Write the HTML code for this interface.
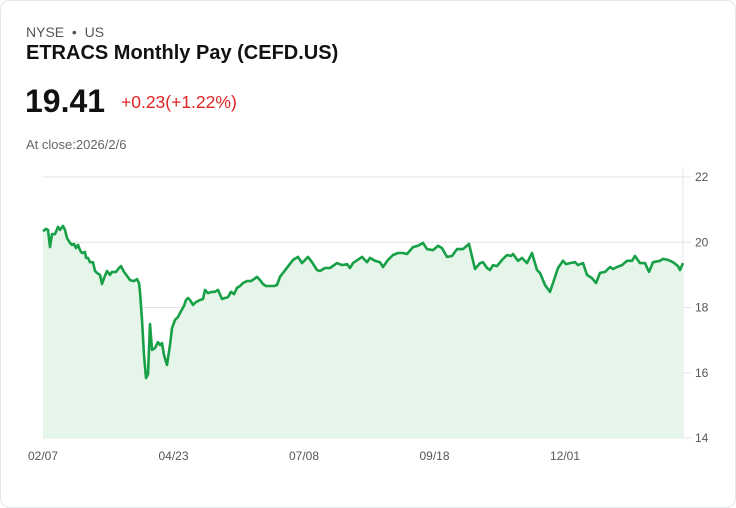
<!DOCTYPE html>
<html><head><meta charset="utf-8"><style>
body{margin:0;background:#fff;font-family:"Liberation Sans",Arial,sans-serif;}
.card{position:absolute;left:0;top:0;width:734px;height:506px;border:1px solid #e3e6ea;border-radius:10px;background:#fff;}
.t{position:absolute;white-space:nowrap;}
</style></head><body>
<div class="card">
<div class="t" style="left:25px;top:23px;font-size:14px;color:#555;">NYSE &nbsp;•&nbsp; US</div>
<div class="t" style="left:25px;top:41px;font-size:20px;font-weight:bold;color:#111;">ETRACS Monthly Pay (CEFD.US)</div>
<div class="t" style="left:24px;top:82px;font-size:32px;font-weight:bold;color:#111;">19.41</div>
<div class="t" style="left:120px;top:91px;font-size:17.5px;color:#e02424;">+0.23(+1.22%)</div>
<div class="t" style="left:25px;top:136px;font-size:13px;color:#666;">At close:2026/2/6</div>
<svg id="chart" width="736" height="508" style="position:absolute;left:-1px;top:-1px"></svg>
</div>
<script>
const dayIdx=[0,3,5,7,9,12,15,17,20,22,24,27,29,31,33,35,37,39,42,43,45,47,50,52,54,57,59,61,64,67,69,73,76,78,81,84,87,91,94,96,97,99,101,103,105,107,109,112,115,117,119,121,124,127,129,132,135,137,141,143,145,147,150,153,157,160,162,165,169,172,175,179,182,185,188,191,194,197,200,204,208,211,214,217,220,223,227,231,234,237,250,255,259,265,269,274,277,282,287,294,299,304,307,310,319,324,327,332,337,340,345,350,355,360,364,370,375,380,384,390,395,399,404,409,414,420,426,432,437,440,444,447,450,454,459,464,468,470,475,479,484,489,494,497,502,507,510,515,520,523,527,532,535,540,544,549,553,557,562,567,570,574,579,584,589,592,597,602,606,610,617,620,625,630,635,637,640];
const prices=[20.34,20.41,20.38,19.85,20.25,20.25,20.47,20.38,20.50,20.38,20.13,19.98,19.92,19.95,19.82,19.92,19.76,19.67,19.70,19.52,19.52,19.39,19.39,19.12,19.06,19.00,18.72,18.90,19.12,19.00,19.09,19.09,19.21,19.27,19.09,18.97,18.84,18.81,18.87,18.75,18.48,17.62,16.54,15.84,15.96,17.49,16.70,16.76,16.94,16.85,16.91,16.54,16.24,16.85,17.37,17.62,17.71,17.83,18.05,18.23,18.29,18.23,18.08,18.17,18.23,18.26,18.54,18.44,18.48,18.48,18.54,18.26,18.29,18.32,18.48,18.41,18.60,18.66,18.75,18.81,18.81,18.87,18.94,18.84,18.72,18.66,18.66,18.66,18.69,18.94,19.46,19.55,19.36,19.55,19.39,19.15,19.12,19.21,19.21,19.36,19.30,19.33,19.21,19.36,19.55,19.39,19.52,19.43,19.39,19.24,19.46,19.61,19.67,19.67,19.64,19.85,19.89,19.98,19.79,19.76,19.89,19.82,19.55,19.58,19.79,19.79,19.95,19.18,19.36,19.39,19.21,19.15,19.30,19.27,19.46,19.61,19.58,19.64,19.43,19.52,19.36,19.67,19.15,19.06,18.69,18.48,18.75,19.21,19.43,19.33,19.36,19.39,19.30,19.36,19.00,18.90,18.75,19.06,19.09,19.24,19.18,19.24,19.30,19.43,19.43,19.58,19.36,19.36,19.09,19.39,19.43,19.49,19.46,19.39,19.27,19.15,19.36];
const yTicks=[22,20,18,16,14];
const xLabels=["02/07","04/23","07/08","09/18","12/01"];
const xLabelIdx=[0,130.5,261,391.5,522];
const NS="http://www.w3.org/2000/svg";
const svg=document.getElementById('chart');
const L=43,R=683,T=177,B=438;
const n=Math.min(dayIdx.length,prices.length);
const pts=[];for(let i=0;i<n;i++)pts.push([dayIdx[i],prices[i]]);
pts.sort((a,b)=>a[0]-b[0]);
const xs=d=>L+d/640*(R-L);
const ys=v=>T+(22-v)/(22-14)*(B-T);
function mk(tag,at){const e=document.createElementNS(NS,tag);for(const k in at)e.setAttribute(k,at[k]);svg.appendChild(e);return e;}
yTicks.forEach(v=>{
 const g=mk('line',{x1:L,x2:R+8,y1:ys(v),y2:ys(v),stroke:'#e2e4e8','stroke-width':1});
 
 
 const t=mk('text',{x:R+12,y:ys(v)+4,'font-size':12,fill:'#555','font-family':'Liberation Sans, sans-serif'});
 t.textContent=v;
 
 
});
const ax=mk('line',{x1:R,x2:R,y1:T-10,y2:B,stroke:'#e2e4e8','stroke-width':1});


xLabels.forEach((s,i)=>{
 const t=mk('text',{x:xs(xLabelIdx[i]),y:460,'font-size':12,fill:'#555','text-anchor':'middle','font-family':'Liberation Sans, sans-serif'});
 t.textContent=s;
 
 
});
let d='';pts.forEach((p,i)=>{d+=(i?'L':'M')+xs(p[0]).toFixed(1)+','+ys(p[1]).toFixed(1);});
const area=mk('path',{d:d+'L'+xs(pts[pts.length-1][0]).toFixed(1)+','+B+'L'+xs(pts[0][0]).toFixed(1)+','+B+'Z',fill:'#e5f5ea'});


const line=mk('path',{d:d,fill:'none',stroke:'#17a045','stroke-width':2.6,'stroke-linejoin':'round'});


</script>
</body></html>
